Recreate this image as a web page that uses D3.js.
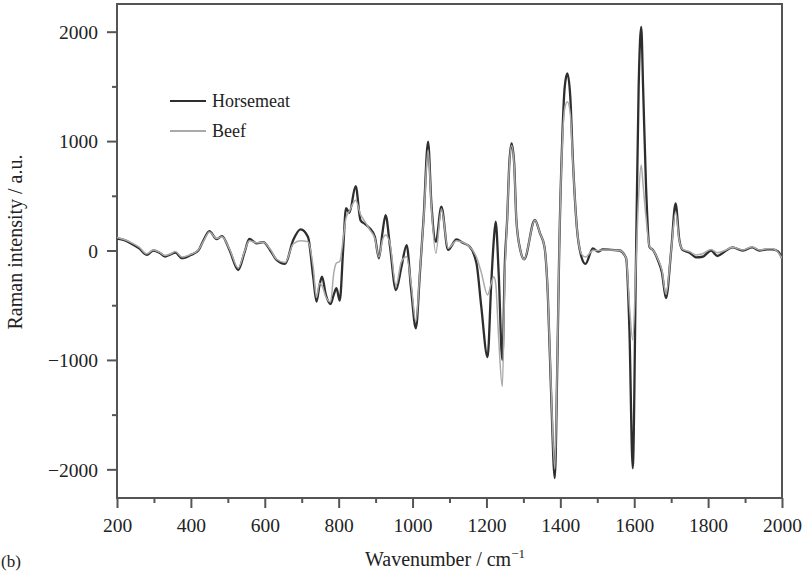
<!DOCTYPE html>
<html>
<head>
<meta charset="utf-8">
<script src="https://cdn.jsdelivr.net/npm/d3@7"></script>
<style>
  body { margin: 0; background: #fff; }
  text { font-family: 'Liberation Serif', 'DejaVu Serif', serif; fill: #222; }
</style>
</head>
<body>
<script>
// wavenumber grid shared by both spectra (cm-1)
const wavenumber = [200, 220, 240, 260, 281, 298, 315, 330, 345, 358, 376, 400, 420, 435, 450, 470, 484, 505, 528, 545,
  558, 578, 596, 615, 632, 655, 677, 697, 717, 731, 740, 748, 755, 765, 778, 787, 794, 803, 812, 820,
  829, 846, 859, 872, 884, 898, 909, 918, 927, 939, 955, 970, 984, 996, 1009, 1020, 1030, 1042, 1051, 1063,
  1078, 1096, 1119, 1136, 1153, 1173, 1186, 1203, 1213, 1220, 1225, 1233, 1243, 1250, 1256, 1262, 1268, 1275, 1281, 1292,
  1302, 1331, 1345, 1357, 1366, 1375, 1385, 1392, 1397, 1405, 1412, 1419, 1427, 1434, 1445, 1457, 1468, 1488, 1502, 1515,
  1540, 1560, 1578, 1587, 1596, 1605, 1612, 1619, 1624, 1632, 1641, 1652, 1664, 1675, 1686, 1700, 1712, 1722, 1731, 1750,
  1767, 1785, 1808, 1825, 1845, 1866, 1894, 1919, 1939, 1960, 1975, 1990, 2000]

const horsemeat = [110, 95, 60, 20, -40, 0, -20, -55, -35, -20, -70, -40, 0, 100, 178, 105, 132, 0, -178, -20,
  105, 66, 77, 0, -87, -123, 96, 193, 123, -239, -467, -320, -239, -400, -489, -400, -345, -458, 0, 388,
  345, 589, 278, 240, 203, 126, -71, 150, 324, 35, -361, -148, 50, -350, -711, -200, 300, 994, 430, 80,
  400, 5, 102, 70, 41, -117, -513, -975, -300, 100, 263, -200, -1000, -100, 280, 800, 979, 800, 279, 0,
  -80, 279, 157, 35, -390, -1300, -2080, -1000, 0, 1000, 1500, 1618, 1400, 826, 200, -57, -123, 20, -11, 11,
  5, 0, -70, -726, -1990, -25, 1496, 2044, 1496, 583, 35, 0, -87, -200, -436, 0, 431, 100, 5, -20,
  -62, -57, 0, -50, -10, 29, 0, 29, 0, 10, 11, -10, -71]

const beef = [120, 100, 70, 30, -30, 5, -15, -45, -30, -10, -60, -35, 5, 90, 170, 110, 125, 10, -160, -10,
  90, 70, 75, 10, -80, -110, 60, 90, 80, -150, -430, -300, -320, -420, -470, -200, -114, -100, 100, 300,
  360, 460, 330, 260, 190, 110, -60, 90, 141, 60, -320, -100, -57, -300, -650, -180, 280, 920, 400, -26,
  380, 20, 90, 75, 40, -60, -200, -406, -300, -239, -300, -800, -1244, -200, 280, 780, 960, 780, 279, 0,
  -80, 279, 157, 35, -380, -1250, -2000, -950, 0, 950, 1300, 1359, 1250, 800, 200, -30, -60, 0, 0, 5,
  5, 0, -70, -500, -817, -100, 500, 781, 600, 300, 40, 0, -80, -180, -400, 0, 354, 90, 10, -10,
  -40, -30, 10, -20, 0, 30, 5, 35, 5, 15, 15, -20, -71]

const seriesNames = ['Horsemeat', 'Beef']
const xMajorTicks = [200, 400, 600, 800, 1000, 1200, 1400, 1600, 1800, 2000]
const xMinorTicks = [300, 500, 700, 900, 1100, 1300, 1500, 1700, 1900]
const yMajorTicks = [-2000, -1000, 0, 1000, 2000]
const yMinorTicks = [-1500, -500, 500, 1500]

const outerWidth = 804
const outerHeight = 573
const margin = { top: 4, right: 22, bottom: 75, left: 117 }
const w = outerWidth - margin.left - margin.right
const h = outerHeight - margin.top - margin.bottom

const svg = d3.select('body')
  .append('svg')
  .attr('width', outerWidth)
  .attr('height', outerHeight)

const xScale = d3.scaleLinear().domain([200, 2000]).range([margin.left, margin.left + w])
const yScale = d3.scaleLinear().domain([-2262, 2253]).range([margin.top + h, margin.top])

const axisColor = '#555'

// clip the spectra to the frame
svg.append('clipPath').attr('id', 'plotClip')
  .append('rect')
  .attr('x', margin.left).attr('y', margin.top)
  .attr('width', w).attr('height', h)

//
// axes: bottom and left, ticks pointing outwards
//
const xAxis = d3.axisBottom(xScale).tickValues(xMajorTicks).tickSize(10).tickPadding(6).tickFormat(d3.format('d'))
const xAxisMinor = d3.axisBottom(xScale).tickValues(xMinorTicks).tickSize(5).tickFormat('')
const yAxis = d3.axisLeft(yScale).tickValues(yMajorTicks).tickSize(10).tickPadding(9)
  .tickFormat(d => d < 0 ? '\u2212' + Math.abs(d) : d)
const yAxisMinor = d3.axisLeft(yScale).tickValues(yMinorTicks).tickSize(5).tickFormat('')

function styleAxis(g) {
  g.select('.domain').remove()
  g.selectAll('line').attr('stroke', axisColor).attr('stroke-width', 2)
  g.selectAll('text')
    .style('font-family', "'Liberation Serif', 'DejaVu Serif', serif")
    .style('font-size', '19.5px')
    .attr('fill', '#222')
}

svg.append('g').attr('transform', `translate(0,${margin.top + h})`).call(xAxisMinor).call(styleAxis)
svg.append('g').attr('id', 'xAxisG').attr('transform', `translate(0,${margin.top + h})`).call(xAxis).call(styleAxis)
svg.append('g').attr('transform', `translate(${margin.left},0)`).call(yAxisMinor).call(styleAxis)
svg.append('g').attr('id', 'yAxisG').attr('transform', `translate(${margin.left},0)`).call(yAxis).call(styleAxis)

svg.selectAll('#xAxisG .tick text').attr('dy', '0.9em')
svg.selectAll('#yAxisG .tick text').attr('dy', '0.35em')

// frame round the plot
svg.append('rect')
  .attr('x', margin.left).attr('y', margin.top)
  .attr('width', w).attr('height', h)
  .attr('fill', 'none')
  .attr('stroke', axisColor)
  .attr('stroke-width', 2)

//
// spectra
//
const line = d3.line()
  .x(d => xScale(d[0]))
  .y(d => yScale(d[1]))
  .curve(d3.curveMonotoneX)

const horseData = wavenumber.map((x, i) => [x, horsemeat[i]])
const beefData = wavenumber.map((x, i) => [x, beef[i]])

const plot = svg.append('g').attr('clip-path', 'url(#plotClip)')

plot.append('path')
  .datum(horseData)
  .attr('d', line)
  .attr('fill', 'none')
  .attr('stroke', '#2e2e2e')
  .attr('stroke-width', 2.3)
  .attr('stroke-linejoin', 'round')

plot.append('path')
  .datum(beefData)
  .attr('d', line)
  .attr('fill', 'none')
  .attr('stroke', '#aaaaaa')
  .attr('stroke-width', 1.5)
  .attr('stroke-linejoin', 'round')

//
// legend
//
const legendColors = ['#2e2e2e', '#aaaaaa']
const legend = svg.append('g').attr('transform', 'translate(170,101)')
seriesNames.forEach((name, i) => {
  legend.append('line')
    .attr('x1', 0).attr('x2', 36)
    .attr('y1', i * 30).attr('y2', i * 30)
    .attr('stroke', legendColors[i])
    .attr('stroke-width', 2)
  legend.append('text')
    .attr('x', 42).attr('y', i * 30)
    .attr('dy', '0.35em')
    .style('font-size', '18px')
    .text(name)
})

//
// axis titles
//
const xTitle = svg.append('text')
  .attr('x', 445).attr('y', 566)
  .attr('text-anchor', 'middle')
  .style('font-size', '20px')
xTitle.append('tspan').text('Wavenumber / cm')
xTitle.append('tspan').attr('dy', -8).style('font-size', '13px').text('\u22121')

svg.append('text')
  .attr('transform', 'translate(22,242) rotate(-90)')
  .attr('text-anchor', 'middle')
  .style('font-size', '20px')
  .text('Raman intensity / a.u.')

svg.append('text')
  .attr('x', 1).attr('y', 567)
  .style('font-size', '17px')
  .text('(b)')
</script>
</body>
</html>
